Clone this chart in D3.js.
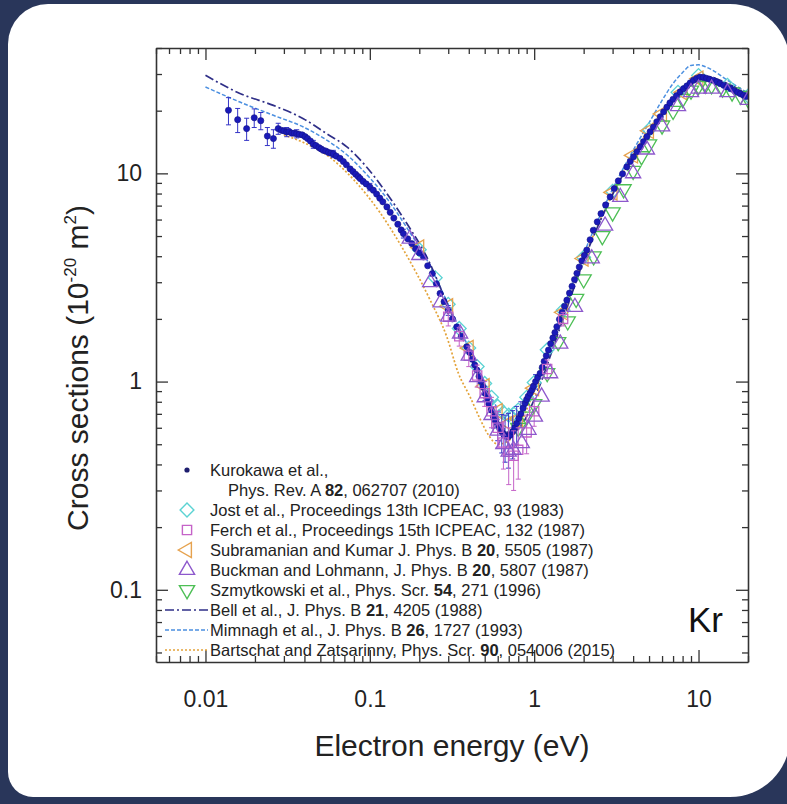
<!DOCTYPE html>
<html><head><meta charset="utf-8">
<script src="https://cdn.jsdelivr.net/npm/d3@7/dist/d3.min.js"></script>
<style>html,body{margin:0;padding:0;background:#29365a;}svg{display:block;}</style>
</head><body>
<script>
// ---------------- data ----------------
const xTickValues = [0.01, 0.1, 1, 10];
const xTickLabels = ["0.01", "0.1", "1", "10"];
const yTickValues = [0.1, 1, 10];
const yTickLabels = ["0.1", "1", "10"];

// Kurokawa et al. (energy eV, cross section 1e-20 m^2)
const kurokawa = [
 [0.0138,20.1],[0.0157,18.1],[0.0178,16.4],[0.0198,18.5],[0.0217,17.9],[0.0238,15.1],[0.0259,14.7],
 [0.0277,16.4],[0.0290,16.1],[0.0300,16.0],[0.0312,15.8],[0.0322,15.9],[0.0335,15.6],[0.0347,15.6],
 [0.0359,15.5],[0.0372,15.4],[0.0388,15.3],[0.0404,15.0],[0.0418,14.7],[0.0435,14.3],[0.0453,13.8],
 [0.0470,13.6],[0.0490,13.3],[0.0505,13.1],[0.0521,12.9],[0.0540,12.8],[0.0560,12.6],[0.0580,12.5],
 [0.0600,12.4],[0.0625,12.1],[0.0659,11.8],[0.0690,11.4],[0.0720,11.0],[0.0759,10.5],[0.0790,10.2],
 [0.0820,9.9],[0.0850,9.65],[0.0873,9.44],[0.0910,9.15],[0.0950,8.9],[0.1000,8.6],[0.1050,8.3],
 [0.1100,7.95],[0.1150,7.6],[0.1200,7.3],[0.1270,6.9],[0.1330,6.5],[0.1400,6.1],[0.1480,5.7],
 [0.1550,5.35],[0.1600,5.14],[0.1700,4.85],[0.1800,4.6],[0.1900,4.35],[0.2000,4.15],[0.2120,3.97],
 [0.2250,3.6],[0.2400,3.3],[0.2540,2.95],[0.2676,2.65],[0.2830,2.42],[0.3000,2.2],[0.3180,2.0],
 [0.3380,1.83],[0.3600,1.65],[0.3890,1.47],[0.4050,1.38],[0.4200,1.28],[0.4350,1.2],[0.4480,1.136],
 [0.4620,1.06],[0.4750,1.0],[0.4880,0.94],[0.5020,0.879],[0.5160,0.83],[0.5300,0.78],[0.5470,0.73],
 [0.5650,0.678],[0.5820,0.645],[0.6000,0.62],[0.6170,0.595],[0.6350,0.574],[0.6500,0.56],[0.6650,0.55],
 [0.6800,0.545],[0.6970,0.544],[0.7180,0.555],[0.7400,0.575],[0.7600,0.60],[0.7830,0.630],[0.8060,0.665],
 [0.8300,0.70],[0.8560,0.745],[0.8810,0.787],[0.9000,0.82],[0.9200,0.85],[0.9450,0.88],[0.9680,0.911],
 [0.9900,0.95],[1.020,1.0],[1.050,1.045],[1.087,1.095],[1.120,1.17],[1.150,1.25],[1.185,1.33],
 [1.222,1.417],[1.260,1.52],[1.300,1.62],[1.337,1.72],[1.374,1.833],[1.425,1.99],[1.480,2.15],
 [1.530,2.3],[1.581,2.46],[1.640,2.66],[1.700,2.87],[1.760,3.09],[1.820,3.31],[1.880,3.55],
 [1.950,3.8],[2.020,4.04],[2.090,4.28],[2.190,4.8],[2.290,5.33],[2.420,5.85],[2.550,6.4],
 [2.720,7.05],[2.900,7.71],[3.070,8.45],[3.250,9.2],[3.450,9.95],[3.660,10.74],[3.840,11.4],
 [4.020,12.0],[4.220,12.7],[4.420,13.4],[4.630,14.2],[4.850,15.0],[5.080,15.85],[5.320,16.7],
 [5.580,17.7],[5.850,18.7],[6.130,19.75],[6.420,20.8],[6.700,21.8],[7.000,22.7],[7.350,23.6],
 [7.730,24.6],[8.100,25.5],[8.500,26.3],[8.900,27.2],[9.310,28.0],[9.750,28.6],[10.20,29.0],
 [10.70,28.9],[11.20,28.6],[11.70,28.3],[12.30,28.0],[12.90,27.5],[13.50,27.0],[14.20,26.5],
 [14.90,26.0],[15.70,25.5],[16.50,25.0],[17.30,24.5],[18.00,24.1],[18.80,23.7],[19.50,23.4]
];
// Kurokawa error bars (energy, +/- error)
const kurokawaErr = [
 [0.0138,3.0],[0.0157,2.4],[0.0178,2.0],[0.0198,1.9],[0.0217,1.7],[0.0238,1.5],[0.0259,1.5],
 [0.0277,1.0],[0.0312,0.8],[0.0359,0.7],[0.0453,0.6],[0.0600,0.5],[0.1000,0.35],[0.1600,0.25],
 [0.3000,0.12],[0.5020,0.07],[0.5650,0.08],[0.6000,0.10],[0.6350,0.12],[0.6650,0.14],[0.6970,0.16],
 [0.7400,0.15],[0.7830,0.13],[0.8300,0.10],[1.020,0.08]
];
const jost = [
 [0.2,4.3],[0.25,3.15],[0.3,2.35],[0.35,1.8],[0.4,1.45],[0.45,1.18],[0.5,0.98],[0.55,0.84],[0.6,0.76],
 [0.65,0.71],[0.7,0.69],[0.75,0.7],[0.8,0.73],[0.9,0.84],[1.0,0.99],[1.2,1.42],[1.5,2.2],[2,3.95],
 [3,8.2],[5,16.2],[7.5,24.5],[10,29.5],[15,26.5],[20,23.5]
];
const ferch = [
 [0.3,2.05],[0.35,1.65],[0.4,1.33],[0.45,1.07],[0.5,0.88],[0.55,0.72],[0.6,0.6],[0.65,0.51],
 [0.7,0.46],[0.75,0.44],[0.8,0.47],[0.9,0.57],[1.0,0.72],[1.2,1.15],[1.5,2.0]
];
const ferchErr = [0.2,0.17,0.15,0.13,0.12,0.12,0.12,0.13,0.14,0.14,0.13,0.12,0.11,0.12,0.15];
const subramanian = [
 [0.2,4.4],[0.3,2.3],[0.4,1.45],[0.5,0.95],[0.6,0.72],[0.7,0.63],[0.8,0.66],[1.0,0.93],[1.5,2.15],
 [2,3.9],[3,8.1],[4,12.2],[5,16],[6,19.3],[8,24.5],[10,28.5]
];
const buckman = [
 [0.175,4.85],[0.2,4.05],[0.233,3.0],[0.27,2.4],[0.3,2.05],[0.354,1.7],[0.4,1.33],[0.45,1.05],
 [0.5,0.84],[0.55,0.69],[0.6,0.58],[0.65,0.5],[0.7,0.46],[0.748,0.47],[0.841,0.506],[0.923,0.586],
 [1.01,0.678],[1.11,0.846],[1.25,1.095],[1.44,1.52],[1.77,2.28],[2.24,3.9],[2.7,5.6],[3.34,7.7],
 [4.0,10.0],[4.85,13.0],[6.0,16.8],[7.5,21],[9,24.5],[10,25.5],[12,25.5],[15,24.5],[20,22.5]
];
const szmytkowski = [
 [0.8,0.6],[0.9,0.68],[1.0,0.78],[1.2,1.1],[1.4,1.55],[1.6,1.95],[1.8,2.5],[2.0,3.1],[2.3,4.0],
 [2.6,5.0],[3.0,6.5],[3.5,8.4],[4.0,10.3],[4.5,12.1],[5,13.8],[6,17.0],[7,20.0],[8,22.8],[9,25.0],
 [10,26.3],[11,26.7],[12,26.5],[14,25.6],[16,24.5],[18,23.6],[20,22.8]
];
const bell = [
 [0.01,29.6],[0.0162,24.2],[0.0259,21.2],[0.0394,18.3],[0.0547,15.5],[0.0725,13.4],[0.0958,10.7],
 [0.127,8.0],[0.168,5.74],[0.222,3.97],[0.3,2.3],[0.4,1.38],[0.5,0.9],[0.6,0.66],[0.7,0.57],[0.8,0.59],
 [0.9,0.68],[1.0,0.82],[1.5,2.0],[2,3.8],[3,7.9],[4,12.0],[5,15.8],[6,19.5],[7,22.5],[8,25.5],[9,28],
 [10,29.5],[12,29],[15,27],[20,24]
];
const mimnagh = [
 [0.01,26.0],[0.0162,22.0],[0.0259,19.0],[0.0394,16.7],[0.055,14.4],[0.075,12.0],[0.1,9.5],[0.13,7.4],
 [0.17,5.4],[0.22,3.9],[0.3,2.35],[0.4,1.45],[0.5,0.98],[0.6,0.74],[0.7,0.65],[0.8,0.67],[0.9,0.77],
 [1.0,0.93],[1.5,2.25],[2,4.1],[3,8.4],[4,12.9],[5,17.5],[6,22.4],[7,27],[8,30.5],[9,33],[10,33.2],
 [11,32.5],[12,31.5],[15,28],[20,24.3]
];
const bartschat = [
 [0.03,15.3],[0.04,14.0],[0.055,12.2],[0.08,9.3],[0.115,6.5],[0.16,4.3],
 [0.233,2.46],[0.294,1.64],[0.346,1.095],[0.407,0.846],[0.469,0.66],[0.53,0.55],[0.6,0.5],[0.7,0.52],
 [0.8,0.6],[1.0,0.9],[1.5,2.2],[2,3.9],[3,8.0],[5,16.3],[7,22.5],[10,28.5],[15,26],[20,23.5]
];
// legend entries: [marker kind, text parts ([text, bold])]
const legendEntries = [
 ["dot",     [["Kurokawa et al.,",0]]],
 [null,      [["Phys. Rev. A ",0],["82",1],[", 062707 (2010)",0]]],
 ["diamond", [["Jost et al., Proceedings 13th ICPEAC, 93 (1983)",0]]],
 ["square",  [["Ferch et al., Proceedings 15th ICPEAC, 132 (1987)",0]]],
 ["left",    [["Subramanian and Kumar J. Phys. B ",0],["20",1],[", 5505 (1987)",0]]],
 ["up",      [["Buckman and Lohmann, J. Phys. B ",0],["20",1],[", 5807 (1987)",0]]],
 ["down",    [["Szmytkowski et al., Phys. Scr. ",0],["54",1],[", 271 (1996)",0]]],
 ["bell",    [["Bell et al., J. Phys. B ",0],["21",1],[", 4205 (1988)",0]]],
 ["mim",     [["Mimnagh et al., J. Phys. B ",0],["26",1],[", 1727 (1993)",0]]],
 ["bart",    [["Bartschat and Zatsarinny, Phys. Scr. ",0],["90",1],[", 054006 (2015)",0]]]
];

// ---------------- drawing ----------------
const FONT = "'Liberation Sans', Arial, Helvetica, sans-serif";
const INK = "#222";
const C = {
  kuro:"#1a1ab8", kuroErr:"#3434c6", jost:"#5cd3d3", ferch:"#c563c8", sub:"#e6a24e",
  buck:"#8d58cc", szm:"#4dbf55", bell:"#2f2f88", mim:"#4b8fe0", bart:"#e3a33a"
};

const W = 787, H = 804;
const svg = d3.select("body").append("svg").attr("width", W).attr("height", H);
svg.append("rect").attr("width", W).attr("height", H).attr("fill", "#29365a");

function cardPath(x0,y0,x1,y1,tl,tr,br,bl){
  return `M${x0+tl},${y0} H${x1-tr} A${tr},${tr} 0 0 1 ${x1},${y0+tr} V${y1-br} A${br},${br} 0 0 1 ${x1-br},${y1} H${x0+bl} A${bl},${bl} 0 0 1 ${x0},${y1-bl} V${y0+tl} A${tl},${tl} 0 0 1 ${x0+tl},${y0} Z`;
}
svg.append("path").attr("d", cardPath(8,4,790,797,40,60,60,25)).attr("fill","#fff");

const x = d3.scaleLog().domain([0.005, 20]).range([156, 748]);
const y = d3.scaleLog().domain([0.045, 40]).range([662, 48]);

svg.append("clipPath").attr("id","clip").append("rect")
  .attr("x",156).attr("y",48).attr("width",592).attr("height",614);
const plot = svg.append("g").attr("clip-path","url(#clip)");

const line = d3.line().x(d => x(d[0])).y(d => y(d[1])).curve(d3.curveMonotoneX);

// symbols
const sym = {
  diamond: d3.symbol().type(d3.symbolSquare).size(95)(),
  square: d3.symbol().type(d3.symbolSquare).size(85)(),
  tri: d3.symbol().type(d3.symbolTriangle).size(100)()
};
function markerAttrs(sel, kind){
  if (kind === "diamond") sel.attr("d", sym.diamond).attr("data-rot",45);
  else if (kind === "square") sel.attr("d", sym.square).attr("data-rot",0);
  else if (kind === "left") sel.attr("d", sym.tri).attr("data-rot",-90);
  else if (kind === "up") sel.attr("d", sym.tri).attr("data-rot",0);
  else if (kind === "down") sel.attr("d", sym.tri).attr("data-rot",180);
  return sel;
}
function drawMarkers(data, kind, color){
  const g = plot.append("g");
  g.selectAll("path").data(data).join("path")
    .call(s => markerAttrs(s, kind))
    .attr("transform", function(d){ return `translate(${x(d[0])},${y(d[1])}) rotate(${this.getAttribute("data-rot")})`; })
    .attr("fill","none").attr("stroke",color).attr("stroke-width",1.3);
}
function drawErr(data, errs, color, cap){
  const g = plot.append("g").attr("stroke",color).attr("stroke-width",1);
  data.forEach((d,i) => {
    const e = errs[i]; const xx = x(d[0]);
    const y1 = y(Math.max(d[1]-e, 0.046)), y2 = y(d[1]+e);
    g.append("line").attr("x1",xx).attr("x2",xx).attr("y1",y1).attr("y2",y2);
    g.append("line").attr("x1",xx-cap).attr("x2",xx+cap).attr("y1",y1).attr("y2",y1);
    g.append("line").attr("x1",xx-cap).attr("x2",xx+cap).attr("y1",y2).attr("y2",y2);
  });
}

// theory curves
plot.append("path").datum(bartschat).attr("d", line).attr("fill","none")
  .attr("stroke",C.bart).attr("stroke-width",1.7).attr("stroke-dasharray","2,2");
plot.append("path").datum(mimnagh).attr("d", line).attr("fill","none")
  .attr("stroke",C.mim).attr("stroke-width",1.5).attr("stroke-dasharray","4,2");
plot.append("path").datum(bell).attr("d", line).attr("fill","none")
  .attr("stroke",C.bell).attr("stroke-width",1.7).attr("stroke-dasharray","9,3,2,3");

// experiments
drawMarkers(jost, "diamond", C.jost);
drawMarkers(subramanian, "left", C.sub);
drawMarkers(szmytkowski, "down", C.szm);

// Kurokawa
const kErrMap = new Map(kurokawaErr.map(d => [d[0], d[1]]));
const kWithErr = kurokawa.filter(d => kErrMap.has(d[0]));
drawErr(kWithErr, kWithErr.map(d => kErrMap.get(d[0])), C.kuroErr, 2.5);
plot.append("g").selectAll("circle").data(kurokawa).join("circle")
  .attr("cx", d => x(d[0])).attr("cy", d => y(d[1])).attr("r", 3.1)
  .attr("fill", C.kuro).attr("stroke","#141488").attr("stroke-width",0.6);

drawErr(ferch, ferchErr, C.ferch, 2.5);
drawMarkers(ferch, "square", C.ferch);
drawMarkers(buckman, "up", C.buck);

// ---------------- axes ----------------
function minorTicks(lo, hi, majors){
  const out = [];
  for (let p = -4; p <= 2; p++) for (let k = 1; k <= 9; k++) {
    const v = +(k * Math.pow(10,p)).toPrecision(6);
    if (v >= lo - 1e-12 && v <= hi + 1e-12 && !majors.includes(v)) out.push(v);
  }
  return out;
}
const xMinor = minorTicks(0.005, 20, xTickValues);
const yMinor = minorTicks(0.045, 40, yTickValues);

function styleAxis(g, keepDomain){
  g.attr("font-family", null).attr("font-size", null);
  g.selectAll(".tick line").attr("stroke","#333").attr("stroke-width",1.3);
  if (keepDomain) g.select(".domain").attr("stroke","#333").attr("stroke-width",1.6);
  else g.select(".domain").remove();
  g.selectAll("text").attr("fill", INK).style("font-family", FONT).style("font-size","23px");
}
// bottom
svg.append("g").attr("transform","translate(0,662)")
  .call(d3.axisBottom(x).tickValues(xTickValues).tickSize(-12).tickSizeOuter(0).tickPadding(29)
    .tickFormat((d,i) => xTickLabels[i]))
  .call(g => styleAxis(g, true));
svg.append("g").attr("transform","translate(0,662)")
  .call(d3.axisBottom(x).tickValues(xMinor).tickSize(-6).tickFormat(""))
  .call(g => styleAxis(g, false));
// top
svg.append("g").attr("transform","translate(0,48)")
  .call(d3.axisTop(x).tickValues(xTickValues).tickSize(-12).tickSizeOuter(0).tickFormat(""))
  .call(g => styleAxis(g, true));
svg.append("g").attr("transform","translate(0,48)")
  .call(d3.axisTop(x).tickValues(xMinor).tickSize(-6).tickFormat(""))
  .call(g => styleAxis(g, false));
// left
svg.append("g").attr("transform","translate(156,0)")
  .call(d3.axisLeft(y).tickValues(yTickValues).tickSize(-12).tickSizeOuter(0).tickPadding(14)
    .tickFormat((d,i) => yTickLabels[i]))
  .call(g => styleAxis(g, true));
svg.append("g").attr("transform","translate(156,0)")
  .call(d3.axisLeft(y).tickValues(yMinor).tickSize(-6).tickFormat(""))
  .call(g => styleAxis(g, false));
// right
svg.append("g").attr("transform","translate(748,0)")
  .call(d3.axisRight(y).tickValues(yTickValues).tickSize(-12).tickSizeOuter(0).tickFormat(""))
  .call(g => styleAxis(g, true));
svg.append("g").attr("transform","translate(748,0)")
  .call(d3.axisRight(y).tickValues(yMinor).tickSize(-6).tickFormat(""))
  .call(g => styleAxis(g, false));

// axis titles
svg.append("text").attr("x", 452).attr("y", 756).attr("text-anchor","middle")
  .style("font-family",FONT).style("font-size","30px").attr("fill",INK)
  .text("Electron energy (eV)");
const yt = svg.append("text").attr("transform","translate(88,368) rotate(-90)")
  .attr("text-anchor","middle").style("font-family",FONT).style("font-size","30px").attr("fill",INK);
yt.append("tspan").text("Cross sections (10");
yt.append("tspan").attr("dy",-12).style("font-size","17px").text("-20");
yt.append("tspan").attr("dy",12).text(" m");
yt.append("tspan").attr("dy",-12).style("font-size","17px").text("2");
yt.append("tspan").attr("dy",12).text(")");

svg.append("text").attr("x",688).attr("y",632).style("font-family",FONT).style("font-size","35px")
  .attr("fill","#111").text("Kr");

// ---------------- legend ----------------
const lg = svg.append("g");
legendEntries.forEach((row, i) => {
  const cy = 470 + i * 20;
  const kind = row[0];
  if (kind === "dot") {
    lg.append("circle").attr("cx",187).attr("cy",cy).attr("r",2.6).attr("fill","#1d1d6e");
  } else if (kind === "bell" || kind === "mim" || kind === "bart") {
    const st = {bell:[C.bell,"9,3,2,3",1.7], mim:[C.mim,"4,2",1.5], bart:[C.bart,"2,2",1.7]}[kind];
    lg.append("line").attr("x1",165).attr("x2",208).attr("y1",cy).attr("y2",cy)
      .attr("stroke",st[0]).attr("stroke-dasharray",st[1]).attr("stroke-width",st[2]);
  } else if (kind) {
    const col = {diamond:C.jost, square:C.ferch, left:C.sub, up:C.buck, down:C.szm}[kind];
    const p = lg.append("path").call(s => markerAttrs(s, kind));
    p.attr("transform", `translate(187,${cy}) rotate(${p.attr("data-rot")})`)
      .attr("fill","none").attr("stroke",col).attr("stroke-width",1.4);
  }
  const t = lg.append("text").attr("x", kind === null ? 228 : 210).attr("y", cy + 6)
    .style("font-family",FONT).style("font-size","16.5px").attr("fill",INK);
  row[1].forEach(part => {
    t.append("tspan").text(part[0]).style("font-weight", part[1] ? "bold" : "normal");
  });
});
</script>
</body></html>
